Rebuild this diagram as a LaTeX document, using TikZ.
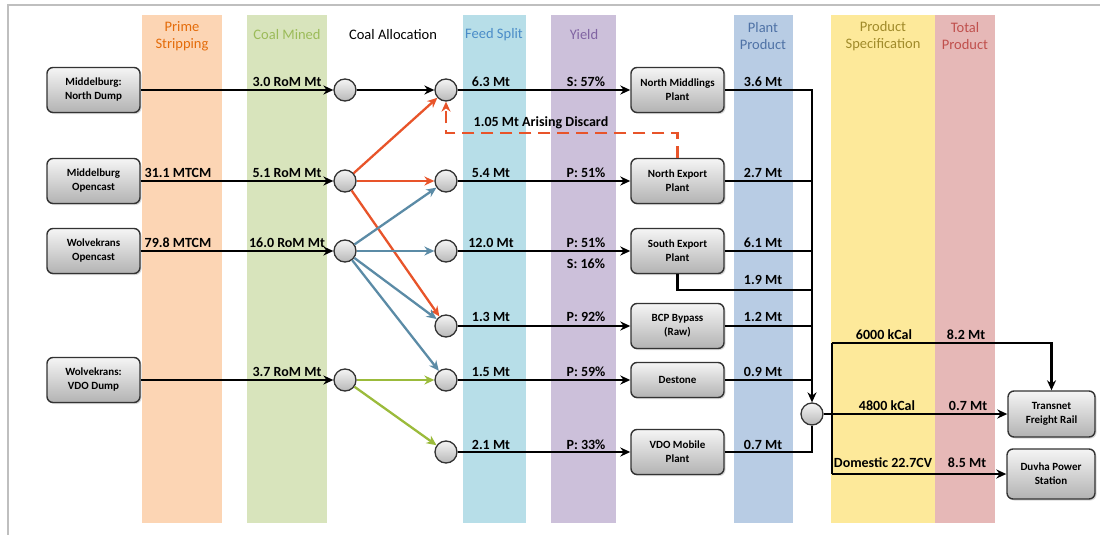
\documentclass[tikz,border=0pt]{standalone}
\usepackage{fontspec}
\setmainfont{Carlito}
\usetikzlibrary{arrows.meta,shadows}
\definecolor{bandOr}{HTML}{FCD5B4}
\definecolor{bandGr}{HTML}{D8E4BC}
\definecolor{bandFd}{HTML}{B7DEE8}
\definecolor{bandYl}{HTML}{CCC0DA}
\definecolor{bandPp}{HTML}{B8CCE4}
\definecolor{bandSp}{HTML}{FDE99A}
\definecolor{bandTp}{HTML}{E6B8B7}
\definecolor{txtOr}{HTML}{E46C0A}
\definecolor{txtGr}{HTML}{9BBB59}
\definecolor{txtFd}{HTML}{4A8CC8}
\definecolor{txtYl}{HTML}{8064A2}
\definecolor{txtPp}{HTML}{4F72A6}
\definecolor{txtSp}{HTML}{A08A2A}
\definecolor{txtTp}{HTML}{C0504D}
\definecolor{flowOr}{HTML}{E8542A}
\definecolor{flowBl}{HTML}{5B8BA6}
\definecolor{flowGr}{HTML}{9BBB3B}

\begin{document}
\begin{tikzpicture}[x=1pt, y=-1pt, >={Stealth[length=10pt,width=9pt]},
    hd/.style={align=center, font=\fontsize{14.5}{17}\selectfont},
    box/.style={draw=black!80, line width=1.4pt, rounded corners=6pt, top color=black!4,
                bottom color=black!30, minimum width=93pt, minimum height=45pt, inner sep=1pt,
                align=center, font=\fontsize{11}{14}\selectfont\bfseries,
                drop shadow={opacity=.3, shadow xshift=1.5pt, shadow yshift=-1.5pt}},
    hub/.style={circle, draw=black!80, line width=1.3pt, top color=black!4,
                bottom color=black!28, minimum size=22pt, inner sep=0pt},
    flow/.style={line width=2.7pt},
    cflow/.style={line width=2.3pt, ->},
    lbl/.style={anchor=base, inner sep=0pt, font=\fontsize{14}{14}\selectfont\bfseries}]
  \useasboundingbox (0,0) rectangle (1100,535);
  \draw[black!25, line width=2pt] (8,535) |- (1100,5);

  % column bands
  \foreach \c/\l/\r in {bandOr/142/222, bandGr/247/327, bandFd/463/526, bandYl/551/616,
                        bandPp/734/793, bandSp/831/935, bandTp/935/995}
    \fill[\c] (\l,15) rectangle (\r,523);

  \node[hd, text=txtOr] (hPrime) at (182,36) {Prime\\Stripping};
  \node[hd, text=txtGr] (hMined) at (287,35) {Coal Mined};
  \node[hd]             (hAlloc) at (393,35) {Coal Allocation};
  \node[hd, text=txtFd] (hFeed)  at (494,35) {Feed Split};
  \node[hd, text=txtYl] (hYield) at (584,35) {Yield};
  \node[hd, text=txtPp] (hPlant) at (763,36) {Plant\\Product};
  \node[hd, text=txtSp] (hSpec)  at (883,36) {Product\\Specification};
  \node[hd, text=txtTp] (hTotal) at (965,36) {Total\\Product};

  % sources
  \node[box] (mnd) at (93.5,90)  {Middelburg:\\North Dump};
  \node[box] (mo)  at (93.5,181) {Middelburg\\Opencast};
  \node[box] (wo)  at (93.5,251) {Wolvekrans\\Opencast};
  \node[box] (wvd) at (93.5,380) {Wolvekrans:\\VDO Dump};

  \foreach \n/\y in {a1/90, a2/181, a3/251, a4/380}
    \node[hub] (\n) at (345,\y) {};
  \foreach \n/\y in {f1/90, f2/181, f3/251, f4/326, f5/380, f6/452}
    \node[hub] (\n) at (446,\y) {};

  % plants
  \node[box] (p1) at (677.5,90)  {North Middlings\\Plant};
  \node[box] (p2) at (677.5,181) {North Export\\Plant};
  \node[box] (p3) at (677.5,251) {South Export\\Plant};
  \node[box] (p4) at (677.5,326) {BCP Bypass\\(Raw)};
  \node[box, minimum height=35pt] (p5) at (677.5,380) {Destone};
  \node[box] (p6) at (677.5,452) {VDO Mobile\\Plant};

  \node[hub] (j) at (812,414) {};
  \node[box, minimum width=87pt, minimum height=46pt] (tfr) at (1051.5,414) {Transnet\\Freight Rail};
  \node[box, minimum width=88pt, minimum height=50pt] (duvha) at (1051,474) {Duvha Power\\Station};

  \coordinate (dsc) at (446,133);
  \coordinate (b19) at (812,290);
  \coordinate (s60) at (832,343);
  \coordinate (s22) at (832,474);

  \foreach \s/\t in {mnd/a1, mo/a2, wo/a3, wvd/a4, a1/f1}
    \draw[flow,->] (\s) -- (\t);
  \foreach \t in {f1,f2,f4} \draw[cflow,flowOr] (a2) -- (\t);
  \foreach \t in {f2,f3,f4,f5} \draw[cflow,flowBl] (a3) -- (\t);
  \foreach \t in {f5,f6} \draw[cflow,flowGr] (a4) -- (\t);
  \foreach \i in {1,...,6} \draw[flow,->] (f\i) -- (p\i);

  % collecting bus
  \foreach \i in {2,...,5} \draw[flow] (p\i.east) -- (p\i.east -| j);
  \draw[flow,->] (p1.east) -| (j.north);
  \draw[flow] (p6.east) -| (j.south);
  \draw[flow] (p3.south) |- (b19);
  \draw[->,flowOr,dash pattern=on 12pt off 7pt,line width=2.2pt] (p2.north) |- (dsc) -- (f1.south);

  \draw[flow,->] (j) -- (tfr);
  \draw[flow] (s60) -- (s22);
  \draw[flow,->] (s60) -| (tfr.north);
  \draw[flow,->] (s22) -- (duvha);

  \node[lbl] (m1) at (287,86)  {3.0 RoM Mt};
  \node[lbl] (t2) at (178,177) {31.1 MTCM};
  \node[lbl] (m2) at (287,177) {5.1 RoM Mt};
  \node[lbl] (t3) at (178,247) {79.8 MTCM};
  \node[lbl] (m3) at (287,247) {16.0 RoM Mt};
  \node[lbl] (m4) at (287,376) {3.7 RoM Mt};

  \node[lbl] (s1) at (491,86)  {6.3 Mt};
  \node[lbl] (s2) at (491,177) {5.4 Mt};
  \node[lbl] (s3) at (491,247) {12.0 Mt};
  \node[lbl] (s4) at (491,321) {1.3 Mt};
  \node[lbl] (s5) at (491,376) {1.5 Mt};
  \node[lbl] (s6) at (491,449) {2.1 Mt};

  \node[lbl] (y1) at (586,86)  {S: 57\%};
  \node[lbl] (y2) at (586,177) {P: 51\%};
  \node[lbl] (y3) at (586,247) {P: 51\%};
  \node[lbl] (y3b) at (586,268) {S: 16\%};
  \node[lbl] (y4) at (586,321) {P: 92\%};
  \node[lbl] (y5) at (586,376) {P: 59\%};
  \node[lbl] (y6) at (586,449) {P: 33\%};

  \node[lbl] (o1) at (763,86)  {3.6 Mt};
  \node[lbl] (o2) at (763,177) {2.7 Mt};
  \node[lbl] (o3) at (763,247) {6.1 Mt};
  \node[lbl] (o3b) at (763,284) {1.9 Mt};
  \node[lbl] (o4) at (763,321) {1.2 Mt};
  \node[lbl] (o5) at (763,376) {0.9 Mt};
  \node[lbl] (o6) at (763,449) {0.7 Mt};

  \node[lbl] (disc) at (541,126) {1.05 Mt Arising Discard};

  \node[lbl] (k60) at (884,339) {6000 kCal};
  \node[lbl] (k60t) at (966,339) {8.2 Mt};
  \node[lbl] (k48) at (887,410) {4800 kCal};
  \node[lbl] (k48t) at (968,410) {0.7 Mt};
  \node[lbl] (k22) at (883,467) {Domestic 22.7CV};
  \node[lbl] (k22t) at (967,467) {8.5 Mt};
\end{tikzpicture}
\end{document}
